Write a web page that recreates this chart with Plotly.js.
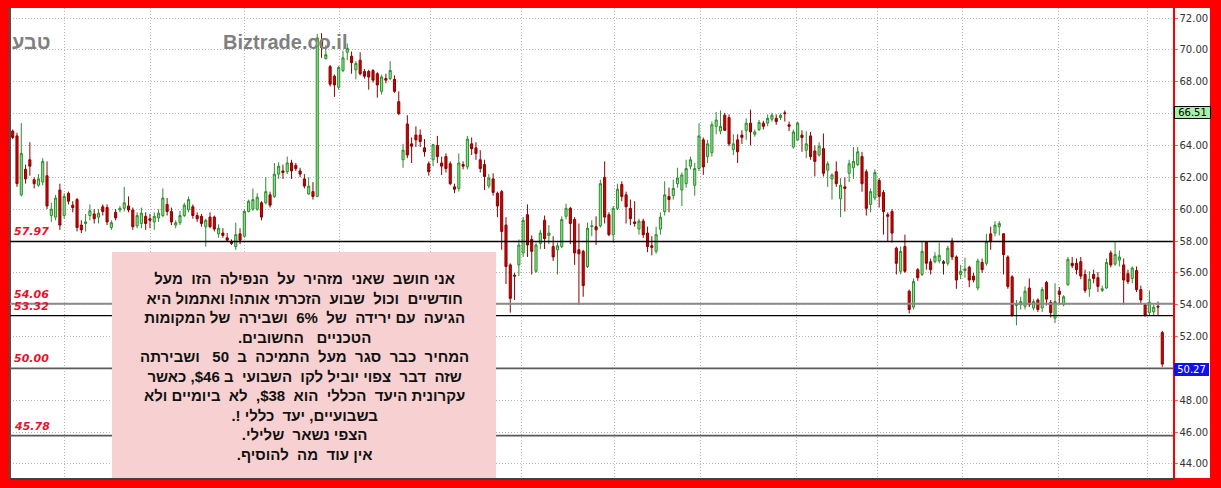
<!DOCTYPE html>
<html>
<head>
<meta charset="utf-8">
<script src="https://cdn.plot.ly/plotly-3.0.1.min.js"></script>
<style>html,body{margin:0;padding:0;background:#ff0000;}#chart{width:1221px;height:488px;}</style>
</head>
<body>
<div id="chart"></div>
<script>
// ---- data ----
const openP = [64.9,64.6,60.9,62.5,63.1,61.85,61.5,61.7,62.1,59.6,59.5,61.2,59.6,61.0,60.25,60.6,59.0,59.1,59.6,59.7,
59.5,60.15,60.1,58.85,59.8,59.95,60.05,60.2,59.95,58.95,59.1,59.55,59.4,59.2,59.45,59.6,60.3,59.85,59.0,59.15,
59.6,59.95,60.15,59.6,59.55,58.9,59.5,59.5,58.45,58.5,58.2,57.95,57.65,58.45,58.3,59.85,60.0,60.0,60.4,60.4,
60.9,60.8,62.2,62.4,62.35,62.9,62.75,62.4,61.9,60.95,61.1,60.8,70.6,69.45,68.95,68.35,67.65,68.7,69.85,69.6,
68.75,69.35,68.65,68.65,68.7,68.5,67.4,68.2,68.2,68.15,66.75,63.1,65.35,64.1,64.65,64.65,63.85,62.85,63.1,64.0,
62.9,63.3,62.85,61.4,61.3,62.8,62.65,64.1,63.85,63.1,62.8,61.45,61.9,61.0,61.1,59.0,56.5,55.85,56.5,57.25,
59.65,58.1,56.1,57.85,59.3,58.35,57.65,57.45,57.65,59.55,60.05,59.35,57.45,57.35,56.4,58.9,58.9,58.95,62.0,59.65,
58.4,60.05,61.55,60.9,60.05,59.2,58.75,59.25,58.5,57.7,57.35,58.75,59.85,60.8,60.85,61.6,61.2,61.6,62.7,61.5,
62.55,64.35,63.3,63.55,65.2,64.9,65.9,65.75,63.75,64.35,64.65,64.95,65.4,64.7,65.0,65.4,65.4,65.65,65.7,65.75,
66.05,65.3,63.9,64.35,64.65,63.7,64.6,63.65,63.4,63.8,62.45,61.9,62.35,60.65,61.4,62.25,62.6,62.8,63.3,62.35,
60.3,60.7,61.8,61.05,59.65,59.85,57.55,56.1,57.65,54.85,53.85,56.2,55.9,57.95,56.7,56.7,56.75,56.7,56.6,58.0,
57.0,55.9,56.15,56.35,55.8,55.05,56.65,56.6,58.45,58.5,58.9,58.45,57.0,55.75,53.95,54.0,53.9,55.05,53.8,54.3,
53.8,55.4,54.15,53.15,54.85,54.0,55.25,56.6,56.6,56.7,55.9,55.0,55.9,55.7,54.9,55.05,57.25,56.55,56.8,56.5,
55.95,55.65,56.15,54.95,54.0,53.5,53.55,53.9,52.25];
const highP = [65.0,64.8,65.4,62.8,64.2,62.0,62.2,63.2,63.0,60.4,60.9,61.6,61.0,61.1,60.5,60.7,59.3,59.7,60.3,60.0,
60.0,60.3,60.3,59.3,60.0,60.2,61.4,60.8,60.1,59.8,60.1,59.8,59.7,59.8,60.0,61.3,60.7,60.1,59.3,59.9,
60.4,60.8,60.3,59.8,59.7,59.4,59.8,59.6,59.05,58.8,58.5,58.1,59.15,58.8,60.0,60.6,61.3,61.0,60.5,62.0,
61.1,62.9,62.95,62.8,63.3,63.1,62.9,62.6,62.2,62.0,61.7,71.0,71.05,70.3,69.05,68.45,69.0,69.95,70.4,69.9,
69.3,69.85,68.8,68.75,68.8,68.6,68.45,68.5,69.3,68.4,67.4,64.1,65.9,64.5,65.2,65.0,64.4,63.0,64.1,64.6,
63.3,63.5,63.0,61.6,63.5,63.0,64.6,64.5,64.2,63.7,63.1,62.2,62.25,61.1,61.2,59.5,56.6,56.0,58.1,59.5,
60.3,58.35,57.9,58.7,59.6,59.0,58.3,57.9,59.55,60.35,60.15,59.5,59.1,57.45,59.15,59.3,59.55,61.85,63.0,59.8,
60.2,61.6,61.75,61.1,60.6,60.5,59.4,59.4,58.9,58.3,58.9,59.8,61.75,61.35,61.85,62.6,62.3,63.1,63.3,62.9,
65.4,64.5,64.35,65.5,66.1,66.2,66.05,65.95,64.7,64.7,64.95,65.7,66.25,65.0,65.6,65.55,65.95,66.05,65.95,66.0,
66.2,65.5,65.0,65.5,64.95,64.9,64.85,64.0,64.2,64.75,63.0,62.25,63.0,61.95,62.0,63.1,63.9,63.9,63.6,62.5,
61.3,62.5,61.95,61.2,59.8,60.0,57.65,57.65,58.4,54.95,55.65,56.3,57.95,58.0,56.9,57.3,57.9,56.8,57.7,58.2,
57.1,56.5,56.95,56.45,56.0,56.9,56.9,58.45,58.9,59.25,59.25,58.5,57.1,55.85,54.3,54.5,55.15,55.65,54.35,54.4,
55.1,55.5,54.3,55.35,55.1,54.6,57.0,57.0,56.9,57.0,56.2,56.1,56.2,56.05,55.2,56.9,57.4,58.0,57.4,56.9,
56.2,56.4,56.4,55.2,54.1,54.9,54.0,54.2,52.35];
const lowP = [64.4,61.4,60.8,61.6,62.1,61.3,61.4,61.5,60.0,59.2,59.3,58.7,59.4,60.3,59.8,58.6,58.5,58.6,59.3,59.1,
59.1,59.6,59.0,58.7,59.3,59.8,59.85,59.8,58.7,58.8,58.8,58.7,58.8,58.7,59.2,59.5,59.6,59.0,58.8,59.0,
59.5,59.8,59.4,59.2,58.9,57.65,58.8,58.6,58.2,58.2,57.95,57.75,57.45,57.8,58.2,59.8,59.9,59.9,59.3,60.3,
60.1,60.7,61.9,61.9,62.2,61.9,62.4,62.0,61.3,60.9,60.6,60.75,69.5,69.4,67.7,67.05,67.5,68.6,69.35,68.5,
68.15,68.4,68.2,67.5,67.95,67.0,67.2,67.9,68.1,67.3,65.9,62.6,63.2,62.9,63.9,63.9,63.3,62.1,62.7,62.9,
62.15,62.3,61.5,61.0,61.1,62.5,62.5,63.4,63.1,62.3,61.2,61.3,60.85,59.5,57.45,55.3,53.5,54.3,55.8,57.0,
57.0,55.9,56.0,57.5,57.5,57.8,56.75,55.9,57.55,59.35,57.8,56.5,54.0,54.5,56.3,58.3,57.75,58.85,59.1,58.3,
57.9,59.95,60.5,59.1,59.0,58.9,58.4,58.2,57.3,57.1,57.2,58.4,59.6,59.8,60.6,61.35,60.2,61.35,62.5,60.85,
62.4,62.15,62.9,63.3,64.7,64.7,64.9,63.95,63.4,62.9,64.1,64.35,64.0,64.55,64.9,65.0,65.2,65.5,65.3,65.6,
65.5,64.9,63.8,64.3,63.6,63.2,63.1,62.05,63.3,62.05,61.4,60.6,61.4,59.5,59.85,61.7,61.9,62.7,61.1,59.6,
59.8,60.55,60.1,58.4,58.0,57.9,55.9,55.9,56.0,53.45,53.7,55.5,55.8,56.2,55.9,56.6,56.6,55.9,56.45,56.8,
55.0,55.6,55.7,55.1,55.4,54.9,56.0,56.45,57.45,58.3,58.35,55.9,55.0,53.25,52.7,53.7,53.7,53.85,53.65,53.55,
53.55,53.95,53.2,52.85,54.0,53.9,55.2,56.3,55.9,55.6,54.75,54.5,55.35,54.8,54.8,55.0,56.35,56.45,56.4,54.0,
55.3,55.35,54.8,54.1,53.25,53.3,53.3,53.3,50.1];
const closeP = [64.5,61.6,63.5,61.9,62.7,61.6,61.9,63.0,60.2,60.0,60.7,59.0,60.8,60.5,60.1,58.85,58.7,59.2,59.9,59.4,
59.75,59.85,59.2,59.15,59.45,60.05,60.4,59.95,58.9,59.6,59.75,59.1,59.3,59.55,59.75,60.7,59.85,59.2,59.15,59.6,
60.25,60.6,59.6,59.4,59.1,59.3,58.9,58.75,58.8,58.35,58.05,57.85,58.4,58.05,59.85,60.5,60.6,60.75,59.5,61.1,
60.25,62.2,62.7,62.3,62.9,62.4,62.55,62.2,61.45,61.45,60.8,70.75,70.15,69.7,67.85,67.8,68.9,69.5,70.1,69.2,
69.15,68.5,68.35,68.3,68.1,67.8,68.3,68.1,68.7,67.4,66.0,63.7,63.4,63.95,64.35,64.25,63.6,62.35,64.05,63.3,
62.7,62.55,61.6,61.25,62.9,62.7,64.4,63.8,63.5,62.55,62.05,61.95,61.05,60.2,58.6,56.4,54.4,55.8,57.75,59.3,
57.75,57.35,57.75,58.5,58.15,58.5,57.0,57.7,59.35,60.05,59.1,57.25,57.2,55.2,58.8,58.95,58.7,61.6,59.5,58.4,
60.05,61.25,60.8,60.15,59.4,59.1,59.25,58.4,57.65,57.6,58.4,59.5,60.9,60.6,61.3,61.95,62.15,62.55,63.1,62.55,
64.6,62.65,64.1,65.3,65.6,65.2,64.95,64.1,64.1,63.6,64.5,65.4,64.85,64.85,65.45,65.2,65.7,65.9,65.5,65.9,
66.0,65.2,64.85,65.4,64.5,64.1,63.3,63.0,63.95,62.25,62.85,62.15,61.6,61.5,61.3,62.85,63.0,63.6,61.6,60.05,
61.1,62.3,60.8,59.85,59.55,58.5,56.6,57.35,56.1,53.7,55.45,55.7,57.35,56.6,56.2,57.05,57.1,56.6,57.55,57.0,
55.55,56.1,56.25,55.55,55.55,56.75,56.2,57.95,57.95,59.0,59.1,57.15,55.15,53.35,54.05,54.2,54.85,54.0,54.2,53.7,
54.95,54.35,53.5,54.2,54.65,54.5,56.85,56.45,56.2,55.8,54.9,55.6,55.65,55.15,55.0,56.65,56.5,57.15,57.0,55.55,
55.45,56.3,54.95,54.3,53.35,54.15,53.85,53.85,50.27];

const gridIdx = [11.96, 32.2, 54.1, 76.3, 97.3, 118.5, 140.4, 160.4, 182.8, 201.5, 221.5, 243.7, 264.6];
const yTicks = [44,46,48,50,52,54,56,58,60,62,64,66,68,70,72];
const levelValues = [57.97, 54.06, 53.32, 50.00, 45.78];
const priceTags = [66.51, 50.27];

const noteLines = [
  "אני חושב  שאני  מזהיר  על  הנפילה  הזו  מעל",
  "חודשיים  וכול  שבוע  הזכרתי אותה! ואתמול היא",
  "הגיעה  עם ירידה  של  6%  ושבירה  של המקומות",
  "הטכניים   החשובים.",
  "המחיר  כבר  סגר  מעל  התמיכה  ב  50   ושבירתה",
  "שזה  דבר  צפוי יוביל לקו  השבועי  ב $46, כאשר",
  "עקרונית היעד  הכללי  הוא  $38,  לא  ביומיים ולא",
  "בשבועיים, יעד  כללי !.",
  "הצפי נשאר  שלילי.",
  "אין עוד  מה  להוסיף."
];

// ---- chart ----
const xIdx = openP.map((_, i) => i);
const RLM = "\u200F";

const trace = {
  type: 'candlestick',
  x: xIdx, open: openP, high: highP, low: lowP, close: closeP,
  increasing: {line: {color: '#2e8b2e', width: 1}, fillcolor: '#8fe88f'},
  decreasing: {line: {color: '#8b0000', width: 1}, fillcolor: '#d40000'},
  hoverinfo: 'skip', showlegend: false
};

const L = 10, R = 48, T = 8, B = 10, W = 1221, H = 488;
const pw = W - L - R, ph = H - T - B;
const px2paperX = p => (p - L) / pw;
const px2paperY = p => (H - B - p) / ph;

const levelStyle = [
  {color: '#000000', width: 1.3},
  {color: '#8a8a8a', width: 2},
  {color: '#000000', width: 1.2},
  {color: '#5a5a5a', width: 1.6},
  {color: '#5a5a5a', width: 1.6}
];

const shapes = [
  {type: 'rect', xref: 'paper', yref: 'paper', x0: 1, x1: px2paperX(1210), y0: 0, y1: 1,
   fillcolor: '#ffffff', line: {width: 0}, layer: 'below'},
  {type: 'line', xref: 'paper', yref: 'paper', x0: 0, x1: 0, y0: 0, y1: 1,
   line: {color: '#505050', width: 2}}
];
levelValues.forEach((v, i) => {
  shapes.push({type: 'line', xref: 'paper', yref: 'y', x0: 0, x1: 1, y0: v, y1: v,
    line: levelStyle[i], layer: 'above'});
});
shapes.push({type: 'rect', xref: 'paper', yref: 'paper',
  x0: px2paperX(112), x1: px2paperX(496), y0: 0, y1: px2paperY(252),
  fillcolor: '#f7d1d1', line: {width: 0}, layer: 'above'});

const annotations = [];
levelValues.forEach(v => {
  annotations.push({xref: 'paper', yref: 'y', x: 0, y: v, xanchor: 'left', yanchor: 'middle',
    xshift: 2, yshift: 9.5, showarrow: false, text: '<b><i>' + v.toFixed(2) + '</i></b>',
    font: {family: 'DejaVu Sans', size: 11, color: '#e8102a'}});
});
annotations.push({xref: 'paper', yref: 'paper', x: px2paperX(31), y: px2paperY(42),
  xanchor: 'center', yanchor: 'middle', showarrow: false, text: '<b>טבע</b>',
  font: {family: 'Liberation Sans', size: 20, color: '#808080'}});
annotations.push({xref: 'paper', yref: 'paper', x: px2paperX(285), y: px2paperY(42),
  xanchor: 'center', yanchor: 'middle', showarrow: false, text: '<b>Biztrade.co.il</b>',
  font: {family: 'Liberation Sans', size: 20, color: '#808080'}});
annotations.push({xref: 'paper', yref: 'paper', x: px2paperX(304), y: px2paperY(366),
  xanchor: 'center', yanchor: 'middle', align: 'center', showarrow: false,
  text: noteLines.map(s => '<b>' + RLM + s + RLM + '</b>').join('<br>'),
  font: {family: 'Liberation Sans', size: 15, color: '#111111'}});
annotations.push({xref: 'paper', yref: 'y', x: 1, y: priceTags[0], xanchor: 'left', yanchor: 'middle',
  xshift: 1, yshift: -7.5, showarrow: false, text: priceTags[0].toFixed(2),
  bgcolor: '#a8f0a8', bordercolor: '#000000', borderwidth: 1, borderpad: 1, width: 33, height: 9,
  font: {family: 'DejaVu Sans', size: 10, color: '#000000'}});
annotations.push({xref: 'paper', yref: 'y', x: 1, y: priceTags[1], xanchor: 'left', yanchor: 'middle',
  xshift: 1, yshift: -5, showarrow: false, text: priceTags[1].toFixed(2),
  bgcolor: '#1010ee', borderwidth: 0, borderpad: 1, width: 33, height: 11,
  font: {family: 'DejaVu Sans', size: 10, color: '#ffffff'}});

const layout = {
  width: W, height: H,
  margin: {l: L, r: R, t: T, b: B, pad: 0},
  paper_bgcolor: '#ff0000', plot_bgcolor: '#ffffff',
  showlegend: false,
  xaxis: {range: [-0.63, 270.5], tickvals: gridIdx, showticklabels: false, ticks: '',
    showgrid: true, gridcolor: '#b8b8b8', griddash: '1px,2px', gridwidth: 1, zeroline: false,
    showline: true, linecolor: '#404040', linewidth: 2, rangeslider: {visible: false}, fixedrange: true},
  yaxis: {side: 'right', range: [43.12, 72.63], tickvals: yTicks, ticktext: yTicks.map(v => v.toFixed(2)),
    showgrid: true, gridcolor: '#b8b8b8', griddash: '1px,2px', gridwidth: 1, zeroline: false,
    showline: true, linecolor: '#ff0000', linewidth: 1.5, ticks: 'outside', ticklen: 3, tickcolor: '#ff6060',
    tickfont: {family: 'DejaVu Sans', size: 10, color: '#333333'}, fixedrange: true},
  shapes: shapes,
  annotations: annotations
};

Plotly.newPlot('chart', [trace], layout, {staticPlot: true, displayModeBar: false});
</script>
</body>
</html>
